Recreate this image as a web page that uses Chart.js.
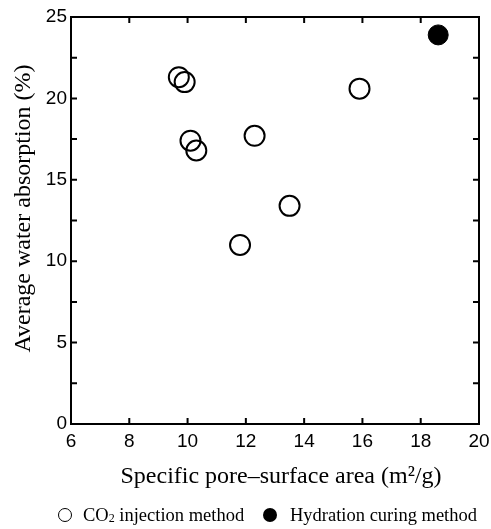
<!DOCTYPE html>
<html>
<head>
<meta charset="utf-8">
<script src="https://cdn.jsdelivr.net/npm/chart.js@4/dist/chart.umd.min.js"></script>
<style>
  html, body { margin: 0; padding: 0; background: #fff; }
  #wrap { position: relative; width: 491px; height: 529px; }
  #legend {
    position: absolute; left: 0; top: 504px; width: 491px;
    font-family: "Liberation Serif", "Times New Roman", serif; font-size: 18.5px; color: #000;
    white-space: nowrap;
  }
  #legend .item { position: absolute; top: 0; line-height: 22px; }
  #legend .dot { position: absolute; top: 4px; width: 14px; height: 14px; border-radius: 50%; box-sizing: border-box; }
  #legend sub { font-size: 12px; vertical-align: baseline; position: relative; top: 1px; }
</style>
</head>
<body>
<div id="wrap">
  <canvas id="myChart" width="491" height="529"></canvas>
  <div id="legend">
    <div class="dot" style="left:58px;border:1px solid #000;"></div>
    <div class="item" style="left:83px;">CO<sub>2</sub> injection method</div>
    <div class="dot" style="left:263px;background:#000;"></div>
    <div class="item" style="left:290px;">Hydration curing method</div>
  </div>
</div>
<script>
/*********************data********************** */
const co2Area = [9.7, 9.9, 10.1, 10.3, 11.8, 12.3, 13.5, 15.9];
const co2Absorption = [21.3, 21.0, 17.4, 16.8, 11.0, 17.7, 13.4, 20.6];
const hydArea = [18.6];
const hydAbsorption = [23.9];

const xTicks = [6, 8, 10, 12, 14, 16, 18, 20];
const yTicks = [0, 5, 10, 15, 20, 25];

const toPoints = (xs, ys) => xs.map((x, i) => ({ x: x, y: ys[i] }));

/*********************frame + inward ticks********************** */
const frameTicks = {
  id: 'frameTicks',
  afterDraw(chart) {
    const c = chart.ctx;
    const a = chart.chartArea;
    const len = 6;
    c.save();
    c.strokeStyle = '#000';
    c.lineWidth = 2;
    c.strokeRect(a.left, a.top, a.right - a.left, a.bottom - a.top);
    c.beginPath();
    chart.scales.x.ticks.forEach(t => {
      const px = chart.scales.x.getPixelForValue(t.value);
      c.moveTo(px, a.bottom); c.lineTo(px, a.bottom - len);
      c.moveTo(px, a.top); c.lineTo(px, a.top + len);
    });
    chart.scales.y.ticks.forEach(t => {
      const py = chart.scales.y.getPixelForValue(t.value);
      c.moveTo(a.left, py); c.lineTo(a.left + len, py);
      c.moveTo(a.right, py); c.lineTo(a.right - len, py);
    });
    c.stroke();
    c.restore();
  }
};

/*********************chart********************** */
const ctx = document.getElementById('myChart').getContext('2d');

new Chart(ctx, {
  type: 'scatter',
  data: {
    datasets: [
      {
        label: 'CO2 injection method',
        data: toPoints(co2Area, co2Absorption),
        pointRadius: 10,
        pointHoverRadius: 10,
        borderColor: '#000',
        backgroundColor: 'rgba(0,0,0,0)',
        borderWidth: 2
      },
      {
        label: 'Hydration curing method',
        data: toPoints(hydArea, hydAbsorption),
        pointRadius: 10,
        pointHoverRadius: 10,
        borderColor: '#000',
        backgroundColor: '#000',
        borderWidth: 1
      }
    ]
  },
  options: {
    responsive: false,
    animation: false,
    layout: { padding: { top: 17, right: 12, left: 0, bottom: 38 } },
    scales: {
      x: {
        type: 'linear',
        min: 6,
        max: 20,
        grid: { display: false, drawTicks: false },
        border: { display: false },
        afterFit: s => { s.height = 67; s.paddingLeft = 0; s.paddingRight = 0; },
        afterBuildTicks: s => { s.ticks = xTicks.map(v => ({ value: v })); },
        ticks: {
          padding: 6,
          color: '#000',
          font: { family: 'Liberation Sans', size: 19 }
        },
        title: {
          display: true,
          text: '  Specific pore\u2013surface area (m\u00B2/g)',
          color: '#000',
          padding: { top: 0, bottom: 0 },
          font: { family: 'Liberation Serif', size: 24 }
        }
      },
      y: {
        min: 0,
        max: 25,
        grid: { display: false, drawTicks: false },
        border: { display: false },
        afterFit: s => { s.width = 71; s.paddingTop = 0; s.paddingBottom = 0; },
        ticks: {
          stepSize: 2.5,
          padding: 4,
          color: '#000',
          font: { family: 'Liberation Sans', size: 19 },
          callback: v => (yTicks.includes(v) ? v : '')
        },
        title: {
          display: true,
          text: '    Average water absorption (%)',
          color: '#000',
          padding: { top: 9, bottom: 0 },
          font: { family: 'Liberation Serif', size: 24 }
        }
      }
    },
    plugins: {
      legend: { display: false },
      tooltip: { enabled: false }
    }
  },
  plugins: [frameTicks]
});
</script>
</body>
</html>
